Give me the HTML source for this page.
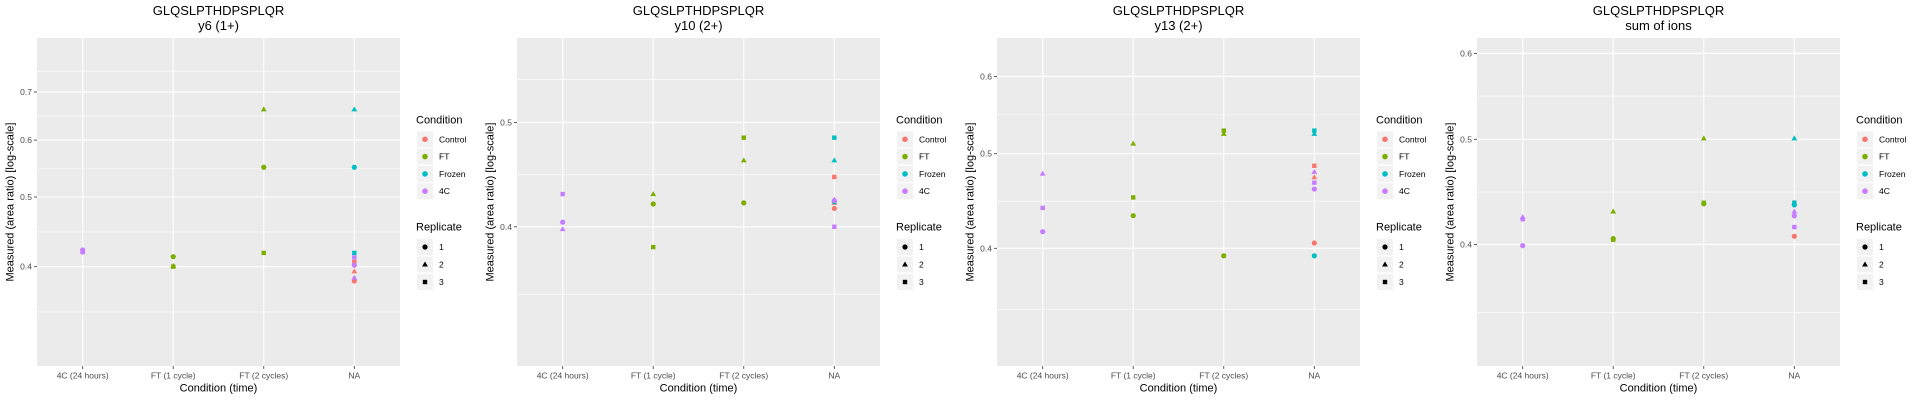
<!DOCTYPE html>
<html><head><meta charset="utf-8"><style>
html,body{margin:0;padding:0;background:#fff;}
svg{display:block;font-family:"Liberation Sans",Arial,sans-serif;}
</style></head><body>
<svg id="root" width="1920" height="400" viewBox="0 0 1920 400"></svg>
<script>
const categories = ["4C (24 hours)","FT (1 cycle)","FT (2 cycles)","NA"];
const conditions = ["Control","FT","Frozen","4C"];
const replicates = ["1","2","3"];
const panelTitles = ["y6 (1+)","y10 (2+)","y13 (2+)","sum of ions"];
const panelDomains = [[0.291,0.832],[0.297,0.599],[0.303,0.657],[0.309,0.620]];
const panelMajorTicks = [[0.4,0.5,0.6,0.7],[0.4,0.5],[0.4,0.5,0.6],[0.4,0.5,0.6]];
const panelTickLabels = [["0.4","0.5","0.6","0.7"],["0.4","0.5"],["0.4","0.5","0.6"],["0.4","0.5","0.6"]];
const panelMinorTicks = [[0.346,0.447,0.548,0.648,0.748],[0.346,0.447,0.548],[0.346,0.447,0.548],[0.346,0.447,0.548]];

// points: category index, condition index, replicate index, value
const y6_cat  = [0,0,0, 1,1,1, 2,2,2, 3,3,3, 3,3,3, 3,3,3];
const y6_cond = [3,3,3, 1,1,1, 1,1,1, 0,0,0, 2,2,2, 3,3,3];
const y6_rep  = [0,1,2, 0,1,2, 0,1,2, 0,1,2, 0,1,2, 0,1,2];
const y6_val  = [0.422,0.421,0.419, 0.413,0.401,0.400, 0.550,0.662,0.418, 0.382,0.394,0.406, 0.550,0.662,0.418, 0.402,0.386,0.412];

const y10_cat  = [0,0,0, 1,1,1, 2,2,2, 3,3,3, 3,3,3, 3,3,3];
const y10_cond = [3,3,3, 1,1,1, 1,1,1, 0,0,0, 2,2,2, 3,3,3];
const y10_rep  = [0,1,2, 0,1,2, 0,1,2, 0,1,2, 0,1,2, 0,1,2];
const y10_val  = [0.404,0.398,0.429, 0.420,0.429,0.383, 0.421,0.461,0.484, 0.416,0.421,0.445, 0.422,0.461,0.484, 0.423,0.424,0.400];

const y13_cat  = [0,0,0, 1,1,1, 2,2,2, 3,3,3, 3,3,3, 3,3,3];
const y13_cond = [3,3,3, 1,1,1, 1,1,1, 0,0,0, 2,2,2, 3,3,3];
const y13_rep  = [0,1,2, 0,1,2, 0,1,2, 0,1,2, 0,1,2, 0,1,2];
const y13_val  = [0.416,0.477,0.440, 0.432,0.512,0.451, 0.393,0.524,0.528, 0.405,0.473,0.486, 0.393,0.524,0.528, 0.460,0.479,0.467];

const sum_cat  = [0,0,0, 1,1,1, 2,2,2, 3,3,3, 3,3,3, 3,3,3];
const sum_cond = [3,3,3, 1,1,1, 1,1,1, 0,0,0, 2,2,2, 3,3,3];
const sum_rep  = [0,1,2, 0,1,2, 0,1,2, 0,1,2, 0,1,2, 0,1,2];
const sum_val  = [0.399,0.424,0.422, 0.405,0.429,0.404, 0.436,0.501,0.437, 0.407,0.437,0.436, 0.435,0.501,0.437, 0.425,0.429,0.415];

const panelData = [
  [y6_cat,y6_cond,y6_rep,y6_val],
  [y10_cat,y10_cond,y10_rep,y10_val],
  [y13_cat,y13_cond,y13_rep,y13_val],
  [sum_cat,sum_cond,sum_rep,sum_val]
];
const condColors = ["#F8766D","#7CAE00","#00BFC4","#C77CFF"];

const NS = "http://www.w3.org/2000/svg";
const root = document.getElementById("root");
function mk(tag, attrs, parent, text){
  const e = document.createElementNS(NS, tag);
  for (const k in attrs) e.setAttribute(k, attrs[k]);
  if (text !== undefined) e.textContent = text;
  parent.appendChild(e);
  return e;
}
const PL=37, PR=400, PT=38, PB=366;
function shape(parent, r, cx, cy, color){
  let e;
  if (r===0) e = mk("circle",{cx:cx,cy:cy,r:2.6,fill:color},parent);
  else if (r===1) e = mk("polygon",{points:`${cx},${cy-3} ${cx-2.9},${cy+2} ${cx+2.9},${cy+2}`,fill:color},parent);
  else e = mk("rect",{x:cx-2.2,y:cy-2.2,width:4.4,height:4.4,fill:color},parent);
  return e;
}

for (let p=0;p<4;p++){
  const ox = p*480;
  const g = mk("g",{transform:`translate(${ox},0)`},root);
  
  
  const [lo,hi] = panelDomains[p];
  const yS = v => PB - (Math.log(v)-Math.log(lo))/(Math.log(hi)-Math.log(lo))*(PB-PT);
  const xS = i => PL + (PR-PL)*(i+0.5)/4 + (i-1.5)*(-0.2);

  const bg = mk("rect",{x:PL,y:PT,width:PR-PL,height:PB-PT,fill:"#EBEBEB"},g);
  
  
  panelMinorTicks[p].forEach(v=>{
    const y=yS(v); if(y<PT||y>PB) return;
    const l = mk("line",{x1:PL,x2:PR,y1:y,y2:y,stroke:"#fff","stroke-width":0.6},g);
    
    
  });
  panelMajorTicks[p].forEach((v,i)=>{
    const y=yS(v);
    const l = mk("line",{x1:PL,x2:PR,y1:y,y2:y,stroke:"#fff","stroke-width":1.1},g);
    
    
    mk("line",{x1:PL-3,x2:PL,y1:y,y2:y,stroke:"#333","stroke-width":0.8},g);
    const t = mk("text",{x:PL-5,y:y+3,"text-anchor":"end","font-size":8.5,fill:"#4D4D4D"},g,panelTickLabels[p][i]);
    
    
  });
  categories.forEach((c,i)=>{
    const x=xS(i);
    const l = mk("line",{x1:x,x2:x,y1:PT,y2:PB,stroke:"#fff","stroke-width":1.1},g);
    
    
    mk("line",{x1:x,x2:x,y1:PB,y2:PB+3,stroke:"#333","stroke-width":0.8},g);
    const t = mk("text",{x:x,y:378.5,"text-anchor":"middle","font-size":8.5,fill:"#4D4D4D"},g,c);
    
    
  });
  const [cat,cond,rep,val] = panelData[p];
  for (let k=0;k<val.length;k++){
    const e = shape(g, rep[k], xS(cat[k]), yS(val[k]), condColors[cond[k]]);
    
    
  }
  const t1 = mk("text",{x:218.5,y:15,"text-anchor":"middle","font-size":13,fill:"#000"},g,"GLQSLPTHDPSPLQR");
  
  
  const t2 = mk("text",{x:218.5,y:30,"text-anchor":"middle","font-size":13,fill:"#000"},g,panelTitles[p]);
  
  
  const xt = mk("text",{x:218.5,y:391.5,"text-anchor":"middle","font-size":11,fill:"#000"},g,"Condition (time)");
  
  
  const yt = mk("text",{x:0,y:0,transform:"translate(13.5,202) rotate(-90)","text-anchor":"middle","font-size":11,fill:"#000"},g,"Measured (area ratio) [log-scale]");
  
  

  const lg = mk("g",{},g);
  
  
  const lt = mk("text",{x:416,y:123.5,"font-size":11,fill:"#000"},lg,"Condition");
  
  
  conditions.forEach((c,i)=>{
    const cy = 139.3 + i*17.3;
    const e = mk("g",{},lg);
    
    
    mk("rect",{x:417,y:cy-8,width:16,height:16,fill:"#F2F2F2"},e);
    mk("circle",{cx:425,cy:cy,r:2.8,fill:condColors[i]},e);
    mk("text",{x:439,y:cy+3,"font-size":8.5,fill:"#000"},e,c);
  });
  const rt = mk("text",{x:416,y:230.5,"font-size":11,fill:"#000"},lg,"Replicate");
  
  
  replicates.forEach((r,i)=>{
    const cy = 247 + i*17.5;
    const e = mk("g",{},lg);
    
    
    mk("rect",{x:417,y:cy-8,width:16,height:16,fill:"#F2F2F2"},e);
    shape(e, i, 425, cy, "#000");
    mk("text",{x:439,y:cy+3,"font-size":8.5,fill:"#000"},e,r);
  });
}
</script>
</body></html>
